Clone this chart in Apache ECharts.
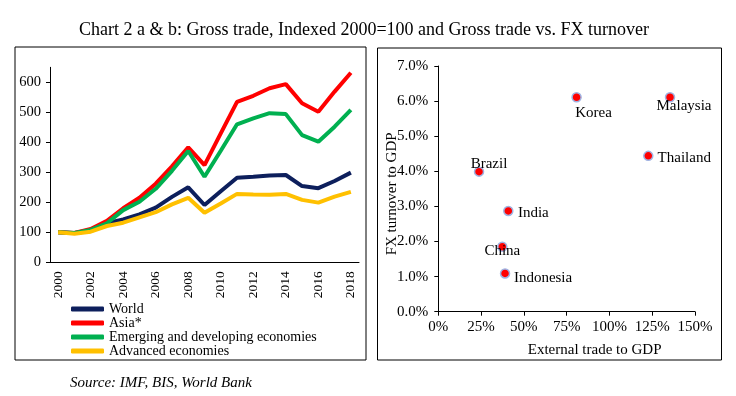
<!DOCTYPE html>
<html>
<head>
<meta charset="utf-8">
<script src="https://cdn.jsdelivr.net/npm/echarts@6/dist/echarts.min.js"></script>
<style>
  html, body { margin: 0; padding: 0; background: #fff; }
  #chart { width: 736px; height: 396px; }
</style>
</head>
<body>
<div id="chart"></div>
<script>
// chart a: gross trade, indexed 2000=100
var years = ['2000', '2001', '2002', '2003', '2004', '2005', '2006', '2007', '2008', '2009',
  '2010', '2011', '2012', '2013', '2014', '2015', '2016', '2017', '2018'];
var world = [100, 98, 104, 130, 143, 160, 182, 218, 250, 191, 237, 282, 285, 289, 291, 254, 247, 271, 299];
var asia = [100, 98, 111, 138, 180, 215, 262, 320, 383, 324, 430, 535, 555, 580, 594, 530, 502, 569, 632];
var emde = [100, 98, 108, 130, 174, 202, 245, 305, 371, 285, 372, 460, 480, 497, 494, 424, 402, 452, 508];
var advanced = [100, 95, 102, 121, 132, 150, 167, 193, 215, 165, 196, 228, 226, 225, 228, 208, 199, 219, 235];
var indexTicks = [0, 100, 200, 300, 400, 500, 600];

// chart b: gross trade vs FX turnover (both % of GDP)
var countries = ['Korea', 'Malaysia', 'Thailand', 'Brazil', 'India', 'China', 'Indonesia'];
var tradeToGdp = [80.8, 135.4, 122.7, 23.8, 40.9, 37.4, 39.0];
var fxToGdp = [6.11, 6.11, 4.44, 3.99, 2.87, 1.85, 1.09];

// where each country name sits relative to its dot
var labelOffsets = {
  Korea: [17, 16], Malaysia: [14, 9], Thailand: [36, 2], Brazil: [10, -8],
  India: [25, 2], China: [0, 4], Indonesia: [38, 5]
};

var serif = '"Liberation Serif", "DejaVu Serif", serif';
var txt = { color: '#000', fontFamily: serif, fontSize: 15 };

var scatterData = countries.map(function (c, i) {
  return {
    name: c,
    value: [tradeToGdp[i], fxToGdp[i]],
    label: { offset: labelOffsets[c] }
  };
});

function lineSeries(name, data, color) {
  return {
    name: name, type: 'line', xAxisIndex: 0, yAxisIndex: 0,
    data: data, symbol: 'none', smooth: false,
    lineStyle: { color: color, width: 4 },
    itemStyle: { color: color }
  };
}

var chart = echarts.init(document.getElementById('chart'));
chart.setOption({
  animation: false,
  backgroundColor: '#fff',
  title: {
    text: 'Chart 2 a & b: Gross trade, Indexed 2000=100 and Gross trade vs. FX turnover',
    left: 74, top: 16,
    textStyle: { color: '#000', fontFamily: serif, fontSize: 18, fontWeight: 'normal' }
  },
  graphic: [
    { type: 'rect', shape: { x: 15, y: 47, width: 351, height: 313 }, style: { fill: null, stroke: '#000', lineWidth: 1 } },
    { type: 'rect', shape: { x: 377.5, y: 48, width: 344, height: 312 }, style: { fill: null, stroke: '#000', lineWidth: 1 } },
    { type: 'text', left: 70, top: 376, style: { text: 'Source: IMF, BIS, World Bank', fill: '#000', font: 'italic 15px ' + serif } }
  ],
  legend: {
    orient: 'vertical', left: 66, top: 297,
    itemWidth: 33, itemHeight: 5, itemGap: 0, icon: 'roundRect',
    textStyle: { color: '#000', fontFamily: serif, fontSize: 14, lineHeight: 14 },
    data: ['World', 'Asia*', 'Emerging and developing economies', 'Advanced economies']
  },
  grid: [
    { left: 50, top: 67.3, width: 309, height: 195 },
    { left: 438.3, top: 66, width: 256.7, height: 245.7 }
  ],
  xAxis: [
    {
      gridIndex: 0, type: 'category', data: years, boundaryGap: true,
      axisLine: { lineStyle: { color: '#000' } },
      axisTick: { interval: 1, length: 4, lineStyle: { color: '#000' } },
      axisLabel: Object.assign({ interval: 1, rotate: 90, margin: 9 }, txt, { fontSize: 13.5 }),
      splitLine: { show: false }
    },
    {
      gridIndex: 1, type: 'value', min: 0, max: 150, interval: 25,
      name: 'External trade to GDP', nameLocation: 'middle', nameGap: 31, nameMoveOverlap: false,
      nameTextStyle: Object.assign({ padding: [0, 0, 0, 56] }, txt),
      axisLine: { show: true, lineStyle: { color: '#000' } },
      axisTick: { show: true, length: 4, lineStyle: { color: '#000' } },
      axisLabel: Object.assign({ margin: 8, formatter: '{value}%' }, txt),
      splitLine: { show: false }
    }
  ],
  yAxis: [
    {
      gridIndex: 0, type: 'value', min: 0, max: 650,
      axisLine: { show: true, lineStyle: { color: '#000' } },
      axisTick: { show: true, length: 4, customValues: indexTicks, lineStyle: { color: '#000' } },
      axisLabel: Object.assign({ margin: 9, customValues: indexTicks }, txt, { fontSize: 14.5 }),
      splitLine: { show: false }
    },
    {
      gridIndex: 1, type: 'value', min: 0, max: 7, interval: 1,
      name: 'FX turnover to GDP', nameLocation: 'middle', nameGap: 39, nameMoveOverlap: false,
      nameTextStyle: Object.assign({ padding: [0, 10, 0, 0] }, txt),
      axisLine: { show: true, lineStyle: { color: '#000' } },
      axisTick: { show: true, length: 4, lineStyle: { color: '#000' } },
      axisLabel: Object.assign({ margin: 10, formatter: function (v) { return v.toFixed(1) + '%'; } }, txt),
      splitLine: { show: false }
    }
  ],
  series: [
    lineSeries('World', world, '#0d1f5c'),
    lineSeries('Asia*', asia, '#ff0000'),
    lineSeries('Emerging and developing economies', emde, '#00b050'),
    lineSeries('Advanced economies', advanced, '#ffc000'),
    {
      type: 'scatter', xAxisIndex: 1, yAxisIndex: 1,
      data: scatterData, symbolSize: 9,
      itemStyle: { color: '#ff0000', borderColor: '#9fb3e3', borderWidth: 1.5, opacity: 1 },
      label: Object.assign({ show: true, position: 'inside', formatter: '{b}' }, txt)
    }
  ]
});
</script>
</body>
</html>
